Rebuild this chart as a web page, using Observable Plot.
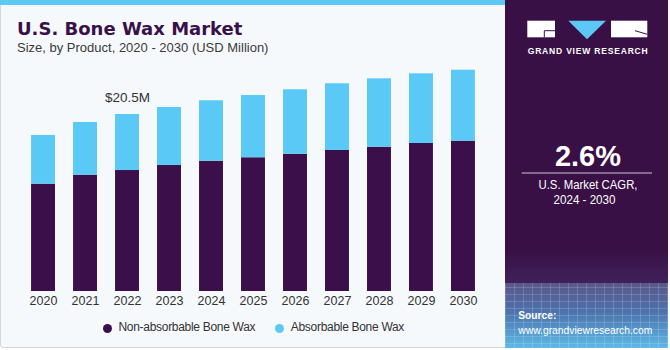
<!DOCTYPE html>
<html>
<head>
<meta charset="utf-8">
<script src="https://cdn.jsdelivr.net/npm/d3@7"></script>
<script src="https://cdn.jsdelivr.net/npm/@observablehq/plot@0.6"></script>
<style>
  html, body { margin: 0; padding: 0; background: #ffffff; }
  #wrap { position: relative; width: 670px; height: 350px; overflow: hidden; font-family: "Liberation Sans", Arial, sans-serif; }
  #left { position: absolute; left: 0; top: 0; width: 506px; height: 348px; box-sizing: border-box;
          background: #f5f9fc; border: 1px solid #d3d7db; border-top: none; border-radius: 0 0 0 4px; }
  #strip { position: absolute; left: 0; top: 0; width: 506px; height: 5px; background: #5bc8f5; }
  #title { position: absolute; left: 17px; top: 20px; font-family: "DejaVu Sans", sans-serif; font-weight: bold;
           font-size: 18px; line-height: 18px; color: #3a1049; white-space: nowrap; }
  #subtitle { position: absolute; left: 17px; top: 41px; font-size: 13px; line-height: 13px; color: #3a3a3a; white-space: nowrap; }
  #chart { position: absolute; left: 0; top: 60px; }
  .leg { position: absolute; top: 321px; height: 12px; font-size: 12px; line-height: 12px; color: #333; letter-spacing: -0.3px; white-space: nowrap; }
  .leg .dot { position: absolute; left: 0; top: 2.8px; width: 9px; height: 9px; border-radius: 50%; }
  .leg .lab { position: absolute; left: 16px; top: 0; }
  #right { position: absolute; left: 505px; top: 0; width: 163px; height: 348px; }
</style>
</head>
<body>
<div id="wrap">
  <div id="left"></div>
  <div id="strip"></div>
  <div id="title">U.S. Bone Wax Market</div>
  <div id="subtitle">Size, by Product, 2020 - 2030 (USD Million)</div>
  <div id="chart"></div>
  <div id="legend"></div>
  <svg id="right" width="163" height="348" viewBox="0 0 163 348">
    <defs>
      <linearGradient id="fade" x1="0" y1="0" x2="0" y2="1">
        <stop offset="0" stop-color="#381045"/>
        <stop offset="1" stop-color="#40215c"/>
      </linearGradient>
      <linearGradient id="src" x1="0" y1="0" x2="0" y2="1">
        <stop offset="0" stop-color="#5a5688"/>
        <stop offset="0.45" stop-color="#4d73ad"/>
        <stop offset="1" stop-color="#5cb9e8"/>
      </linearGradient>
      <pattern id="grid" width="9" height="7" patternUnits="userSpaceOnUse">
        <path d="M0 0.5H9M0.5 0V7" stroke="#ffffff" stroke-opacity="0.16" stroke-width="1" fill="none"/>
      </pattern>
    </defs>
    <rect x="0" y="0" width="163" height="348" fill="#381045"/>
    <rect x="0" y="250" width="163" height="33" fill="url(#fade)"/>
    <rect x="0" y="283" width="163" height="65" fill="url(#src)"/>
    <rect x="0" y="283" width="163" height="65" fill="url(#grid)"/>
    <!-- logo -->
    <rect x="22.3" y="20.7" width="27.7" height="16.6" fill="#ffffff"/>
    <path d="M39.3 30.7H50M39.3 30.7V37.3" stroke="#381045" stroke-width="1" fill="none"/>
    <path d="M63.3 20.7L101 20.7L82 39.3Z" fill="#5bc8f5"/>
    <rect x="106" y="20.7" width="36.3" height="16.6" fill="#ffffff"/>
    <path d="M130 30.7L142.3 34.3" stroke="#381045" stroke-width="1" fill="none"/>
    <text x="22.7" y="54" font-family="Liberation Sans, Arial, sans-serif" font-weight="bold" font-size="8.5" fill="#ffffff" textLength="120" lengthAdjust="spacing">GRAND VIEW RESEARCH</text>
    <!-- CAGR -->
    <text x="83" y="165.8" text-anchor="middle" font-family="Liberation Sans, Arial, sans-serif" font-weight="bold" font-size="29" fill="#ffffff">2.6%</text>
    <line x1="16.7" y1="173" x2="147" y2="173" stroke="#cfc6d6" stroke-width="1"/>
    <text x="83" y="189.3" text-anchor="middle" font-family="Liberation Sans, Arial, sans-serif" font-size="12" fill="#ffffff" textLength="99" lengthAdjust="spacingAndGlyphs">U.S. Market CAGR,</text>
    <text x="79.5" y="204.3" text-anchor="middle" font-family="Liberation Sans, Arial, sans-serif" font-size="12" fill="#ffffff" textLength="62" lengthAdjust="spacingAndGlyphs">2024 - 2030</text>
    <!-- source -->
    <text x="13.3" y="319.3" font-family="Liberation Sans, Arial, sans-serif" font-weight="bold" font-size="11" fill="#ffffff" textLength="38" lengthAdjust="spacingAndGlyphs">Source:</text>
    <text x="13.3" y="333.8" font-family="Liberation Sans, Arial, sans-serif" font-size="11.5" fill="#ffffff" textLength="134" lengthAdjust="spacingAndGlyphs">www.grandviewresearch.com</text>
  </svg>
</div>
<script>
// ---- data (USD Million) ----
const years = [2020, 2021, 2022, 2023, 2024, 2025, 2026, 2027, 2028, 2029, 2030];
const nonAbsorbable = [12.43, 13.47, 14.01, 14.59, 15.09, 15.49, 15.90, 16.33, 16.71, 17.14, 17.41];
const absorbable    = [5.64, 6.10, 6.49, 6.72, 7.00, 7.21, 7.46, 7.73, 7.92, 8.07, 8.22];
const products = ["Non-absorbable Bone Wax", "Absorbable Bone Wax"];
const productColors = ["#3a0f4a", "#5bc9f5"];
const annotationYear = 2022;
const annotationText = "$20.5M";

const data = years.flatMap((yr, i) => [
  {year: yr, product: products[0], value: nonAbsorbable[i]},
  {year: yr, product: products[1], value: absorbable[i]}
]);
const ai = years.indexOf(annotationYear);
const annotation = [{year: annotationYear, total: nonAbsorbable[ai] + absorbable[ai], text: annotationText}];

const chart = Plot.plot({
  width: 505,
  height: 260,
  marginTop: 6.5,
  marginBottom: 29,
  marginLeft: 13,
  marginRight: 12,
  style: {background: "transparent", fontFamily: "Liberation Sans, Arial, sans-serif", fontSize: "12.5px", color: "#333"},
  x: {type: "band", domain: years, padding: 0.43, round: false, label: null, tickSize: 0, tickPadding: 5, tickFormat: d => String(d)},
  y: {domain: [0, 26], axis: null},
  color: {domain: products, range: productColors},
  marks: [
    Plot.barY(data, {x: "year", y: "value", fill: "product"}),
    Plot.text(annotation, {x: "year", y: "total", text: "text", dy: -17, lineAnchor: "middle", fontSize: 13.5, fill: "#333"})
  ]
});
document.getElementById("chart").appendChild(chart);

// ---- legend ----
const legend = document.getElementById("legend");
const legendLeft = [102.5, 274.8];
products.forEach((p, i) => {
  const item = document.createElement("div");
  item.className = "leg";
  item.style.left = legendLeft[i] + "px";
  item.innerHTML = `<span class="dot" style="background:${productColors[i]}"></span><span class="lab">${p}</span>`;
  legend.appendChild(item);
});
</script>
</body>
</html>
